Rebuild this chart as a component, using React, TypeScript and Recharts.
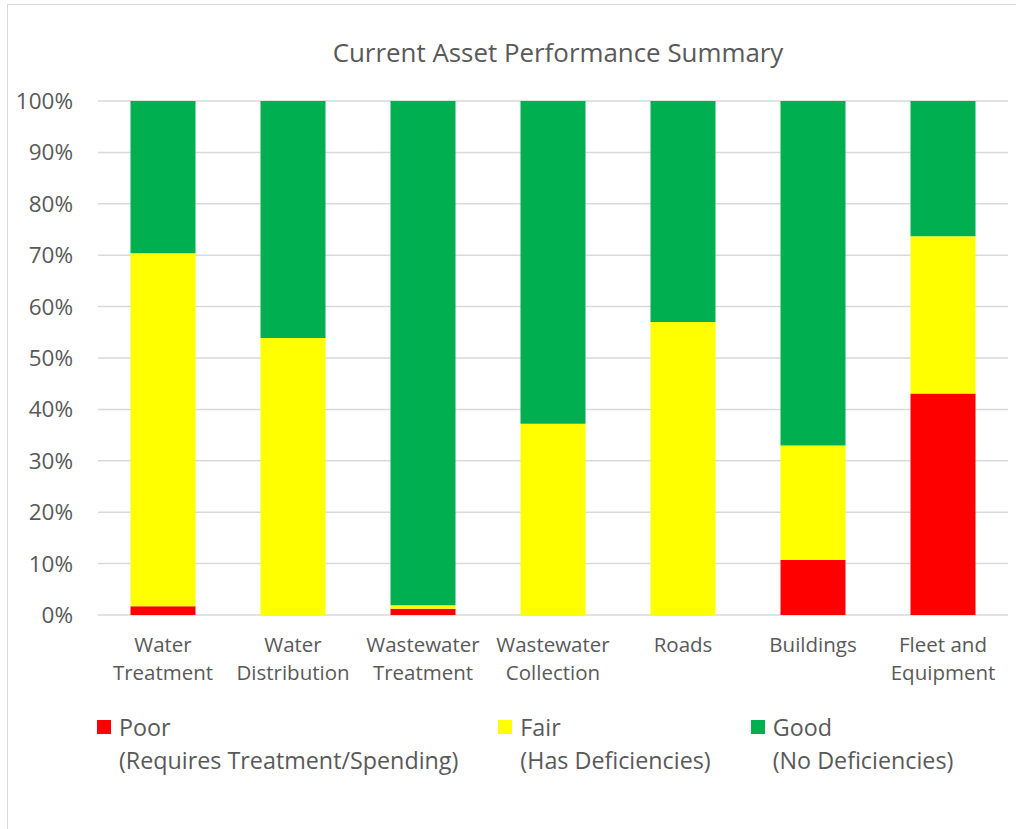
import React from "react";
import { BarChart, Bar, XAxis, YAxis, CartesianGrid, Legend } from "recharts";

const categories = [
  "Water Treatment",
  "Water Distribution",
  "Wastewater Treatment",
  "Wastewater Collection",
  "Roads",
  "Buildings",
  "Fleet and Equipment",
];
const tickLines = [
  ["Water", "Treatment"],
  ["Water", "Distribution"],
  ["Wastewater", "Treatment"],
  ["Wastewater", "Collection"],
  ["Roads"],
  ["Buildings"],
  ["Fleet and", "Equipment"],
];
const poor = [1.7, 0, 1.2, 0, 0, 10.7, 43.1];
const fair = [68.7, 53.9, 0.7, 37.2, 57.0, 22.3, 30.6];
const good = [29.6, 46.1, 98.1, 62.8, 43.0, 67.0, 26.3];
const yTicks = [0, 10, 20, 30, 40, 50, 60, 70, 80, 90, 100];
const seriesNames = ["Poor", "Fair", "Good"];
const seriesNotes = ["(Requires Treatment/Spending)", "(Has Deficiencies)", "(No Deficiencies)"];
const title = "Current Asset Performance Summary";

const data = categories.map((c, i) => ({ name: c, poor: poor[i], fair: fair[i], good: good[i] }));

const FONT = "'Open Sans', sans-serif";
const TEXT = "#595959";

function XTick(props: any) {
  const { x, y, index } = props;
  const lines = tickLines[index] || [props.payload.value];
  return (
    <g>
      {lines.map((l: string, k: number) => (
        <text
          key={k}
          x={x}
          y={y + 37 + k * 28}
          textAnchor="middle"
          fill={TEXT}
          fontFamily={FONT}
          fontSize={20.5}
        >
          {l}
        </text>
      ))}
    </g>
  );
}

function LegendBox(props: any) {
  const payload = props.payload || [];
  return (
    <div style={{ display: "flex", gap: 40, paddingLeft: 97, fontFamily: FONT, color: TEXT, fontSize: 23.3 }}>
      {payload.map((p: any, i: number) => (
        <div key={i} style={{ display: "flex", alignItems: "flex-start" }}>
          <div style={{ width: 14, height: 14, background: p.color, marginTop: 9.5, marginRight: 8 }} />
          <div style={{ lineHeight: "33px" }}>
            <div>{p.value}</div>
            <div>{seriesNotes[seriesNames.indexOf(p.value)]}</div>
          </div>
        </div>
      ))}
    </div>
  );
}

export default function App() {
  return (
    <div style={{ position: "absolute", left: 0, top: 0, width: 1016, height: 829, overflow: "hidden", background: "#fff" }}>
      <div style={{ position: "absolute", left: 7, top: 4, width: 1060, height: 880, border: "1.5px solid #d9d9d9" }} />
      <svg style={{ position: "absolute", left: 0, top: 0 }} width={1016} height={80}>
        <text x={558} y={62} textAnchor="middle" fill={TEXT} fontFamily={FONT} fontSize={25.9}>
          {title}
        </text>
      </svg>
      <BarChart
        width={1016}
        height={829}
        data={data}
        margin={{ top: 101, right: 8, bottom: 184, left: 8 }}
        barCategoryGap="25%"
      >
        <CartesianGrid vertical={false} stroke="#d9d9d9" strokeWidth={1.5} />
        <XAxis
          dataKey="name"
          height={30}
          axisLine={false}
          tickLine={false}
          tickSize={0}
          tickMargin={0}
          interval={0}
          tick={<XTick />}
        />
        <YAxis
          width={90}
          domain={[0, 100]}
          ticks={yTicks}
          interval={0}
          axisLine={false}
          tickLine={false}
          tickSize={6}
          tickMargin={19}
          tickFormatter={(v: number) => v + "%"}
          tick={{ fill: TEXT, fontFamily: FONT, fontSize: 22.5 }}
        />
        <Legend
          layout="horizontal"
          verticalAlign="middle"
          align="center"
          itemSorter={(item: any) => seriesNames.indexOf(item.value)}
          wrapperStyle={{ top: 710.5, left: 0, width: 1016 }}
          content={<LegendBox />}
        />
        <Bar dataKey="poor" name={seriesNames[0]} stackId="a" fill="#ff0000" isAnimationActive={false} />
        <Bar dataKey="fair" name={seriesNames[1]} stackId="a" fill="#ffff00" isAnimationActive={false} />
        <Bar dataKey="good" name={seriesNames[2]} stackId="a" fill="#00b050" isAnimationActive={false} />
      </BarChart>
    </div>
  );
}
